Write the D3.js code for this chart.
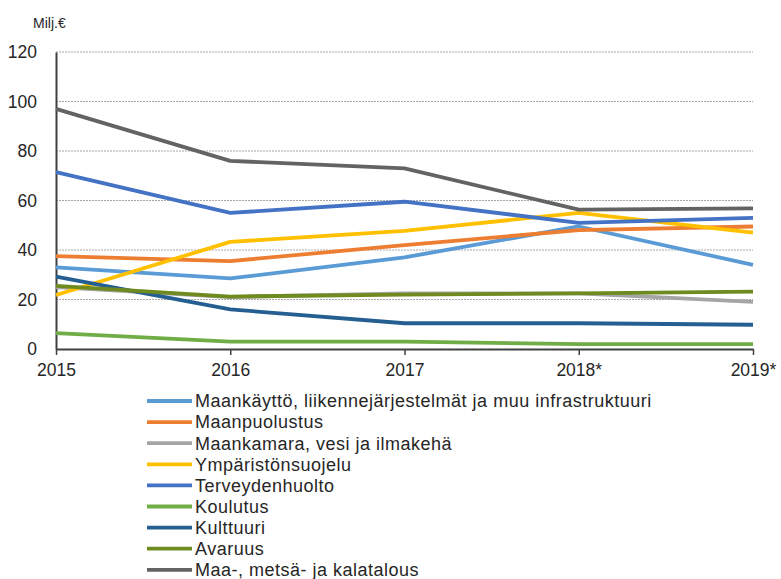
<!DOCTYPE html>
<html>
<head>
<meta charset="utf-8">
<script src="https://cdn.jsdelivr.net/npm/d3@7"></script>
<style>
  body { margin: 0; background: #fff; }
  svg { font-family: "Liberation Sans", Arial, sans-serif; }
</style>
</head>
<body>
<div id="chart"></div>
<script>
const years = ["2015", "2016", "2017", "2018*", "2019*"];
const yTicks = [0, 20, 40, 60, 80, 100, 120];

const seriesNames = [
    "Maankäyttö, liikennejärjestelmät ja muu infrastruktuuri",
    "Maanpuolustus",
    "Maankamara, vesi ja ilmakehä",
    "Ympäristönsuojelu",
    "Terveydenhuolto",
    "Koulutus",
    "Kulttuuri",
    "Avaruus",
    "Maa-, metsä- ja kalatalous"
];
const seriesColors = ["#5b9bd5", "#ed7d31", "#a5a5a5", "#ffc000", "#4472c4", "#70ad47", "#255e91", "#6f8a1e", "#636363"];

const maankaytto = [33, 28.5, 37, 49.5, 34];
const maanpuolustus = [37.5, 35.5, 42, 48, 49.5];
const maankamara = [25, 21, 22.5, 22.5, 19];
const ymparisto = [21.8, 43.3, 47.7, 55, 47];
const terveys = [71.5, 55, 59.5, 51, 53];
const koulutus = [6.4, 3, 3, 2, 2];
const kulttuuri = [29.2, 16, 10.4, 10.4, 9.8];
const avaruus = [25.5, 21.2, 22, 22.5, 23.2];
const maatalous = [97, 76, 73, 56.3, 56.8];

const seriesValues = [maankaytto, maanpuolustus, maankamara, ymparisto, terveys, koulutus, kulttuuri, avaruus, maatalous];

function init() {
    const width = 781;
    const height = 579;

    const svg = d3.select("#chart")
                  .append("svg")
                  .attr("width", width)
                  .attr("height", height);

    const x = d3.scalePoint().domain(years).range([56, 753]);
    const y = d3.scaleLinear().domain([0, 120]).range([349, 52]);

    // gridlines
    svg.append("g")
       .selectAll("line")
       .data(yTicks.filter(d => d > 0))
       .enter()
       .append("line")
       .attr("x1", 56)
       .attr("x2", 753)
       .attr("y1", d => y(d))
       .attr("y2", d => y(d))
       .style("stroke", "#a6a6a6")
       .style("stroke-width", 1)
       .style("stroke-dasharray", "2,1");

    // y axis
    const yAxis = svg.append("g")
       .attr("transform", "translate(56,0)")
       .call(d3.axisLeft(y).tickValues(yTicks).tickSize(0).tickPadding(19));
    yAxis.select(".domain").style("stroke", "#404040").style("stroke-width", 2);
    yAxis.selectAll("text")
         .style("font-size", "17.5px")
         .style("fill", "#262626");

    // x axis
    const xAxis = svg.append("g")
       .attr("transform", "translate(0,349)")
       .call(d3.axisBottom(x).tickSize(6).tickSizeOuter(0).tickPadding(9));
    xAxis.select(".domain").style("stroke", "#404040").style("stroke-width", 2);
    xAxis.selectAll("line").style("stroke", "#404040").style("stroke-width", 1.5);
    xAxis.selectAll("text")
         .style("font-size", "17.5px")
         .style("fill", "#262626");

    // unit label
    svg.append("text")
       .attr("x", 33)
       .attr("y", 28)
       .style("font-size", "14px")
       .style("fill", "#262626")
       .text("Milj.€");

    // lines
    const line = d3.line()
                   .x((d, i) => x(years[i]))
                   .y(d => y(d));

    svg.append("g")
       .selectAll("path")
       .data(seriesValues)
       .enter()
       .append("path")
       .attr("d", d => line(d))
       .style("fill", "none")
       .style("stroke", (d, i) => seriesColors[i])
       .style("stroke-width", 3.8)
       .style("stroke-linejoin", "round");

    // legend
    const legend = svg.append("g")
       .selectAll("g")
       .data(seriesNames)
       .enter()
       .append("g")
       .attr("transform", (d, i) => `translate(147,${401 + i * 21.1})`);

    legend.append("line")
          .attr("x1", 0)
          .attr("x2", 45)
          .style("stroke", (d, i) => seriesColors[i])
          .style("stroke-width", 3.8);

    legend.append("text")
          .attr("x", 48)
          .attr("dy", "0.35em")
          .style("font-size", "18px")
          .style("letter-spacing", "0.5px")
          .style("fill", "#262626")
          .text(d => d);
}

window.onload = init;
</script>
</body>
</html>
